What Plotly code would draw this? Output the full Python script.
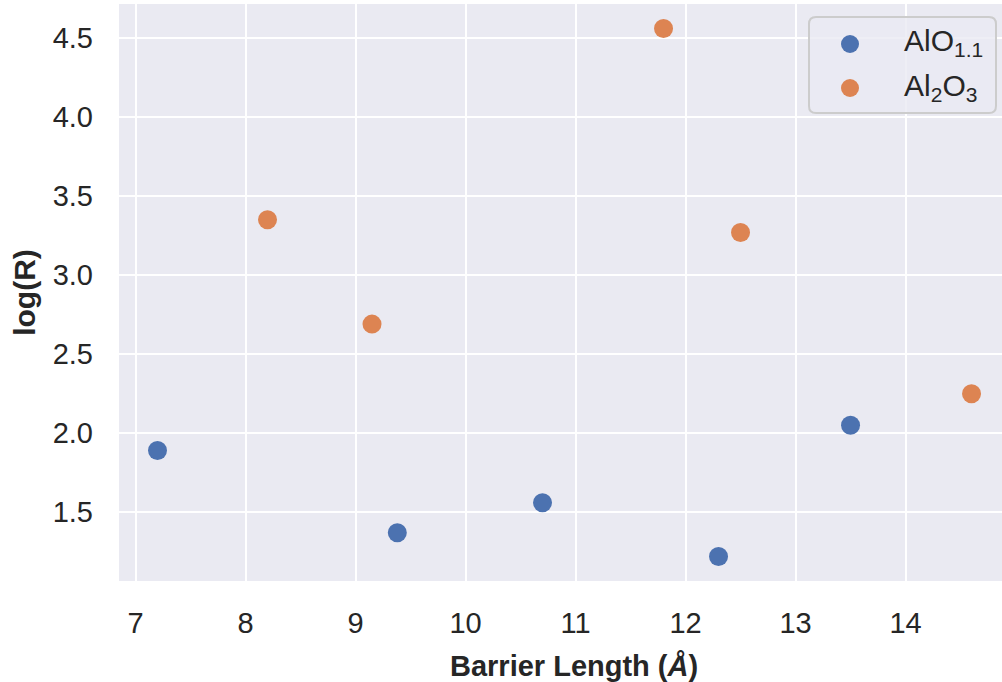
import plotly.graph_objects as go

# Barrier length (Å) vs log(R) for the two oxide stoichiometries
alo_length = [7.2, 9.38, 10.7, 12.3, 13.5]
alo_logr = [1.89, 1.37, 1.56, 1.22, 2.05]

al2o3_length = [8.2, 9.15, 11.8, 12.5, 14.6]
al2o3_logr = [3.35, 2.69, 4.56, 3.27, 2.25]

series_names = ["AlO<sub>1.1</sub>", "Al<sub>2</sub>O<sub>3</sub>"]
series_colors = ["#4C72B0", "#DD8452"]

x_ticks = [7, 8, 9, 10, 11, 12, 13, 14]
y_ticks = [1.5, 2.0, 2.5, 3.0, 3.5, 4.0, 4.5]

FONT = "Liberation Sans, Arial, sans-serif"
TEXT = "#262626"

W, H = 1002, 682
ML, MR, MT, MB = 119, 0, 4, 101
PW, PH = W - ML - MR, H - MT - MB


def px_to_paper(px, py):
    return (px - ML) / PW, (H - MB - py) / PH


fig = go.Figure()
for xs, ys, name, color in zip(
    [alo_length, al2o3_length],
    [alo_logr, al2o3_logr],
    series_names,
    series_colors,
):
    fig.add_trace(
        go.Scatter(
            x=xs,
            y=ys,
            mode="markers",
            name=name,
            showlegend=False,
            marker=dict(size=19, color=color, line=dict(width=0)),
        )
    )

# Legend: rounded frame, circle swatches and labels, placed in pixels
box_l, box_r, box_t, box_b, rad = 809, 996, 17, 113, 7
corners = [
    ("M", box_l + rad, box_t),
    ("L", box_r - rad, box_t),
    ("Q", box_r, box_t, box_r, box_t + rad),
    ("L", box_r, box_b - rad),
    ("Q", box_r, box_b, box_r - rad, box_b),
    ("L", box_l + rad, box_b),
    ("Q", box_l, box_b, box_l, box_b - rad),
    ("L", box_l, box_t + rad),
    ("Q", box_l, box_t, box_l + rad, box_t),
]
path = ""
for seg in corners:
    cmd, pts = seg[0], seg[1:]
    coords = []
    for i in range(0, len(pts), 2):
        xp, yp = px_to_paper(pts[i], pts[i + 1])
        coords.append(f"{xp:.5f},{yp:.5f}")
    path += cmd + " ".join(coords) + " "
path += "Z"

shapes = [
    dict(
        type="path",
        xref="paper",
        yref="paper",
        path=path,
        fillcolor="rgba(234,234,242,0.8)",
        line=dict(color="#CCCCCC", width=2),
        layer="above",
    )
]
annotations = []
row_y = [44, 88]
for name, color, ry in zip(series_names, series_colors, row_y):
    cx, cy = px_to_paper(850, ry)
    shapes.append(
        dict(
            type="circle",
            xref="paper",
            yref="paper",
            xsizemode="pixel",
            ysizemode="pixel",
            xanchor=cx,
            yanchor=cy,
            x0=-9,
            x1=9,
            y0=-9,
            y1=9,
            fillcolor=color,
            line=dict(width=0),
            layer="above",
        )
    )
    tx, ty = px_to_paper(902, ry - 1)
    annotations.append(
        dict(
            x=tx,
            y=ty,
            xref="paper",
            yref="paper",
            xanchor="left",
            yanchor="middle",
            text=name,
            showarrow=False,
            font=dict(family=FONT, size=30, color=TEXT),
        )
    )

# x-axis label, centred on the full axes width
lx, ly = px_to_paper(574, 666)
annotations.append(
    dict(
        x=lx,
        y=ly,
        xref="paper",
        yref="paper",
        xanchor="center",
        yanchor="middle",
        text="<b>Barrier Length (<i>Å</i>)</b>",
        showarrow=False,
        font=dict(family=FONT, size=29, color=TEXT),
    )
)

fig.update_layout(
    width=W,
    height=H,
    margin=dict(l=ML, r=MR, t=MT, b=MB),
    paper_bgcolor="white",
    plot_bgcolor="#EAEAF2",
    font=dict(family=FONT, size=29, color=TEXT),
    showlegend=False,
    shapes=shapes,
    annotations=annotations,
)

fig.update_xaxes(
    range=[6.85, 14.877],
    tickvals=x_ticks,
    ticktext=[str(v) for v in x_ticks],
    showgrid=True,
    gridcolor="white",
    gridwidth=2,
    zeroline=False,
    showline=False,
    ticks="",
    ticklabelstandoff=22,
    tickfont=dict(size=29, color=TEXT),
)

fig.update_yaxes(
    range=[1.065, 4.715],
    tickvals=y_ticks,
    ticktext=[f"{v:.1f}" for v in y_ticks],
    showgrid=True,
    gridcolor="white",
    gridwidth=2,
    zeroline=False,
    showline=False,
    ticks="",
    ticklabelstandoff=25,
    tickfont=dict(size=29, color=TEXT),
    title=dict(
        text="<b>log(R)</b>",
        font=dict(size=30, color=TEXT),
        standoff=8,
    ),
)

fig.write_html("out.html")
